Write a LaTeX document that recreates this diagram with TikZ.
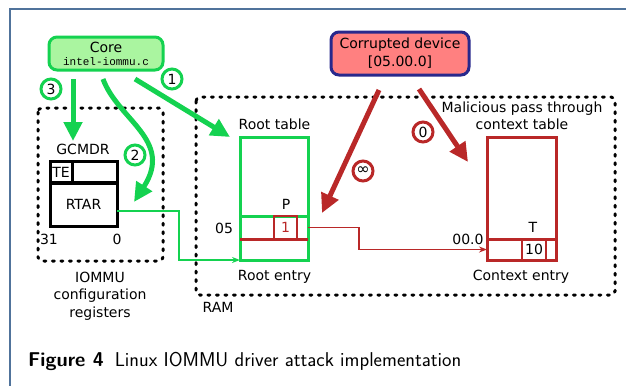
\documentclass[tikz,border=0pt]{standalone}
\usepackage{fontspec}
\newfontfamily\dv{DejaVu Sans}
\newfontfamily\mono{Liberation Mono}
\usetikzlibrary{arrows.meta}
\definecolor{grn}{RGB}{20,210,80}
\definecolor{lgrn}{RGB}{170,245,160}
\definecolor{rd}{RGB}{185,40,40}
\definecolor{pnk}{RGB}{255,128,128}
\definecolor{nvy}{RGB}{40,40,140}
\definecolor{frm}{RGB}{80,115,155}
\begin{document}
\begin{tikzpicture}[x=1pt,y=-1pt,
  lbl/.style={font=\dv\fontsize{14}{17.5}\selectfont, inner sep=0pt, align=center},
  dotbox/.style={draw=black, line width=3pt, dash pattern=on 2pt off 6.5pt, line cap=round, rounded corners=4pt},
  tbl/.style={line width=3pt, inner sep=0pt, outer sep=0pt},
  bigg/.style={draw=grn, line width=5pt, -{Triangle[length=19pt,width=18pt]}},
  bigr/.style={draw=rd, line width=5pt, -{Triangle[length=19pt,width=18pt]}},
  circ/.style={circle, line width=3pt, fill=white, minimum size=20pt, inner sep=0pt, font=\dv\fontsize{14}{14}\selectfont},
  thin/.style={line width=1.8pt, -{Stealth[length=8pt,width=6pt]}}
]
\useasboundingbox (0,0) rectangle (626,386);
% frame
\draw[frm, line width=1.2pt] (626,9) -- (10,9) -- (10,386);

% dotted boxes
\draw[dotbox] (38,108) rectangle (163,261);
\draw[dotbox] (196,97) rectangle (615,295);

% top nodes
\node[draw=grn, fill=lgrn, line width=3pt, rounded corners=8pt, minimum width=114pt, minimum height=33pt, inner sep=0pt, align=center, font=\dv\fontsize{14}{14}\selectfont] (core) at (106,53.5)
  {Core\\[-1pt]{\mono\fontsize{11}{11}\selectfont intel-iommu.c}};
\node[draw=nvy, fill=pnk, line width=3pt, rounded corners=8pt, minimum width=138pt, minimum height=43pt, inner sep=0pt, lbl, font=\dv\fontsize{14}{18}\selectfont] (dev) at (400,53.5)
  {Corrupted device\\{[}05.00.0{]}};

% IOMMU registers
\node[lbl] (gcmdrl) at (83,149) {GCMDR};
\node[tbl, draw=black, minimum width=67pt, minimum height=22pt] (gcmdr) at (83.5,172) {};
\node[tbl, draw=black, minimum width=22pt, minimum height=22pt, lbl] (te) at (61,172) {TE};
\node[tbl, draw=black, minimum width=67pt, minimum height=44pt, lbl] (rtar) at (83.5,204.5) {RTAR};
\node[lbl] (b31) at (49,239) {31};
\node[lbl] (b0) at (117,239) {0};
\node[lbl] (iommul) at (100,296) {IOMMU\\configuration\\registers};
\node[lbl] (raml) at (218,307) {RAM};

% Root table
\node[lbl] (rootl) at (274.5,124) {Root table};
\node[tbl, draw=grn, minimum width=68pt, minimum height=123pt] (rt) at (274,198.5) {};
\draw[grn, line width=3pt] (rt.west |- 0,216) -- (rt.east |- 0,216);
\draw[rd, line width=3pt] (rt.west |- 0,239) -- (rt.east |- 0,239);
\node[tbl, draw=rd, line width=2.5pt, minimum width=23pt, minimum height=23pt, lbl, text=rd] (pcell) at (285.5,227.5) {1};
\node[lbl] (pl) at (286,204) {P};
\node[lbl] (l05) at (224,228) {05};
\node[lbl] (rootel) at (274.5,277) {Root entry};

% Context table
\node[lbl] (ctxl) at (522,116) {Malicious pass through\\context table};
\node[tbl, draw=rd, minimum width=69pt, minimum height=123pt] (ct) at (521.5,198.5) {};
\draw[rd, line width=3pt] (ct.west |- 0,239) -- (ct.east |- 0,239);
\node[tbl, draw=rd, line width=2.5pt, minimum width=24pt, minimum height=21pt, lbl] (tcell) at (534,249.5) {10};
\node[lbl] (tl) at (533,227) {T};
\node[lbl] (l00) at (468,239) {00.0};
\node[lbl] (ctxel) at (521,277) {Context entry};

% thin connectors
\draw[grn, thin] ([yshift=-6.5pt]rtar.east) -- ++(62,0) |- (rt.south west);
\draw[rd, thin] (rt.east |- pcell.center) -- ++(51,0) |- (ct.west |- tcell.center);

% thick arrows
\coordinate (c1s) at (135,79);
\coordinate (c1e) at (230,137);
\coordinate (c3s) at (73,79);
\coordinate (c3e) at (73,141);
\coordinate (c2s) at (103,79);
\coordinate (c2e) at (134,202);
\coordinate (r1s) at (379,90);
\coordinate (r1e) at (322,213);
\coordinate (r0s) at (419,89);
\coordinate (r0e) at (468,162);
\draw[bigg] (c1s) -- (c1e);
\draw[bigg] (c3s) -- (c3e);
\draw[bigg] (c2s) .. controls (118,120) and (174,140) .. (c2e);
\draw[bigr] (r1s) -- (r1e);
\draw[bigr] (r0s) -- (r0e);

% step labels
\node[circ, draw=grn] (n1) at (172,79) {1};
\node[circ, draw=grn] (n3) at (51,89) {3};
\node[circ, draw=grn] (n2) at (135,155) {2};
\node[circ, draw=rd, font=\dv\fontsize{16}{16}\selectfont] (ninf) at (363,171) {∞};
\node[circ, draw=rd] (nz) at (423,132) {0};

% caption
\node[anchor=base west, inner sep=0pt, font=\sffamily\fontsize{20}{24}\selectfont] (cap) at (28,366)
  {\textbf{Figure 4}\hspace{0.55em}Linux IOMMU driver attack implementation};
\end{tikzpicture}
\end{document}
